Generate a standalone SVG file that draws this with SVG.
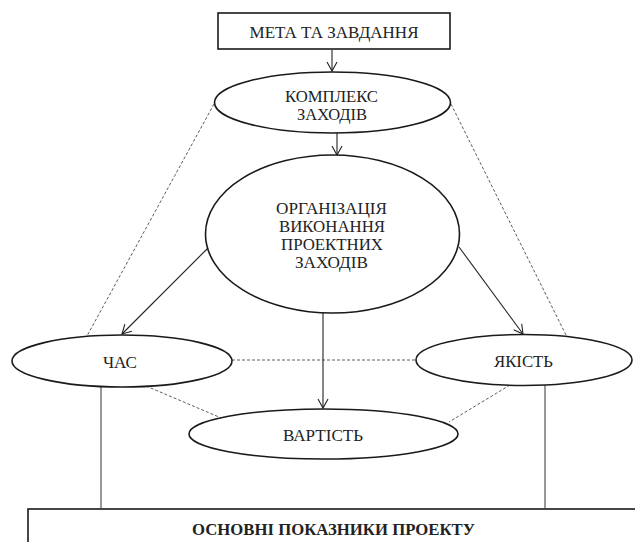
<svg xmlns="http://www.w3.org/2000/svg" width="635" height="542" viewBox="0 0 635 542">
<style>
.n{fill:#fff;stroke:#1a1a1a;stroke-width:1.6}
.c{fill:none;stroke:#222;stroke-width:1.1}
.d{fill:none;stroke:#333;stroke-width:0.8;stroke-dasharray:3 2}
.s{fill:none;stroke:#333;stroke-width:1}
text{font-family:"Liberation Serif","Times New Roman",serif;font-size:16px;fill:#222;text-anchor:middle}
.L{font-size:17.5px}
</style>
<defs>
<marker id="a" markerWidth="12" markerHeight="12" refX="10" refY="6" orient="auto" markerUnits="userSpaceOnUse">
<path d="M1,1 L10,6 L1,11" fill="none" stroke="#222" stroke-width="1.1"/>
</marker>
</defs>
<rect width="635" height="542" fill="#fff"/>
<g id="connectors">
<line class="c" x1="332" y1="50" x2="332" y2="71" marker-end="url(#a)"/>
<line class="c" x1="337" y1="133" x2="337" y2="155" marker-end="url(#a)"/>
<line class="c" x1="208" y1="248" x2="122" y2="334" marker-end="url(#a)"/>
<line class="c" x1="459" y1="247" x2="523" y2="334" marker-end="url(#a)"/>
<line class="c" x1="323" y1="313" x2="323" y2="408" marker-end="url(#a)"/>
<line class="d" x1="214" y1="104" x2="87" y2="336"/>
<line class="d" x1="451" y1="104" x2="566" y2="335"/>
<line class="d" x1="232" y1="360" x2="417" y2="360"/>
<line class="d" x1="146" y1="386" x2="219" y2="417"/>
<line class="d" x1="510" y1="385" x2="449" y2="422"/>
<line class="s" x1="101" y1="387" x2="101" y2="508"/>
<line class="s" x1="545" y1="385" x2="545" y2="508"/>
</g>
<g id="n1">
<rect class="n" x="218" y="13" width="232" height="36"/>
<text class="L" x="334" y="38" textLength="169" lengthAdjust="spacingAndGlyphs">МЕТА ТА ЗАВДАННЯ</text>
</g>
<g id="n2">
<ellipse class="n" cx="332.5" cy="102.5" rx="118" ry="30.5"/>
<text x="331.5" y="102" textLength="93" lengthAdjust="spacingAndGlyphs">КОМПЛЕКС</text>
<text x="332" y="120" textLength="70" lengthAdjust="spacingAndGlyphs">ЗАХОДІВ</text>
</g>
<g id="n3">
<ellipse class="n" cx="332.5" cy="234" rx="127" ry="79"/>
<text x="331.5" y="214" textLength="111" lengthAdjust="spacingAndGlyphs">ОРГАНІЗАЦІЯ</text>
<text x="332" y="232" textLength="106" lengthAdjust="spacingAndGlyphs">ВИКОНАННЯ</text>
<text x="332" y="250" textLength="102" lengthAdjust="spacingAndGlyphs">ПРОЕКТНИХ</text>
<text x="331.5" y="268" textLength="73" lengthAdjust="spacingAndGlyphs">ЗАХОДІВ</text>
</g>
<g id="n4">
<ellipse class="n" cx="122" cy="361" rx="110" ry="26"/>
<text class="L" x="120" y="368" textLength="34" lengthAdjust="spacingAndGlyphs">ЧАС</text>
</g>
<g id="n5">
<ellipse class="n" cx="524" cy="360" rx="108" ry="25.5"/>
<text class="L" x="523.5" y="367" textLength="59" lengthAdjust="spacingAndGlyphs">ЯКІСТЬ</text>
</g>
<g id="n6">
<ellipse class="n" cx="323.5" cy="434" rx="134.5" ry="25"/>
<text class="L" x="323" y="441" textLength="80" lengthAdjust="spacingAndGlyphs">ВАРТІСТЬ</text>
</g>
<g id="n7">
<rect class="n" x="28" y="509" width="620" height="50"/>
<text class="L" x="333.5" y="535" font-weight="bold" textLength="283" lengthAdjust="spacingAndGlyphs">ОСНОВНІ ПОКАЗНИКИ ПРОЕКТУ</text>
</g>
</svg>
